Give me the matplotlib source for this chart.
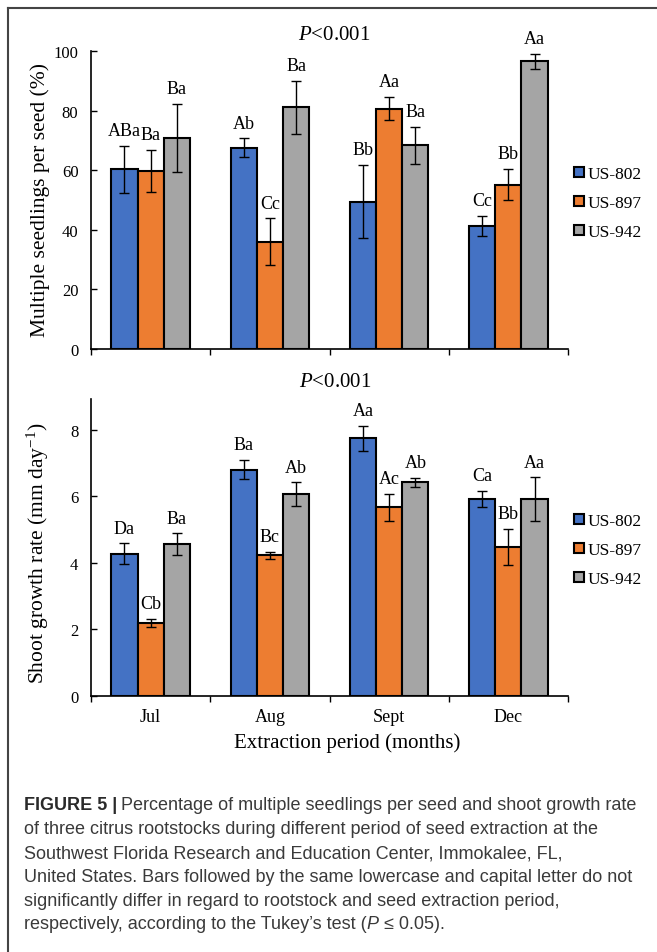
import numpy as np
import matplotlib
matplotlib.use("Agg")
from matplotlib import pyplot as plt
from matplotlib.patches import Patch
from matplotlib.lines import Line2D

plt.rcParams['font.family'] = ['Liberation Serif', 'DejaVu Serif']
plt.rcParams['mathtext.fontset'] = 'custom'
plt.rcParams['mathtext.rm'] = 'Liberation Serif'
plt.rcParams['mathtext.it'] = 'Liberation Serif:italic'

# data
months = ['Jul', 'Aug', 'Sept', 'Dec']
rootstocks = ['US-802', 'US-897', 'US-942']
colors = ['#4472C4', '#ED7D31', '#A5A5A5']

seedlings = [[60.3, 67.5, 49.4, 41.2],
             [59.8, 36.0, 80.7, 55.2],
             [70.8, 81.2, 68.4, 96.6]]
seedlings_err = [[7.9, 3.2, 12.3, 3.4],
                 [7.0, 7.8, 4.0, 5.2],
                 [11.4, 8.9, 6.2, 2.5]]
seedlings_letters = [['ABa', 'Ab', 'Bb', 'Cc'],
                     ['Ba', 'Cc', 'Aa', 'Bb'],
                     ['Ba', 'Ba', 'Ba', 'Aa']]

growth = [[4.28, 6.80, 7.75, 5.92],
          [2.20, 4.23, 5.67, 4.48],
          [4.57, 6.07, 6.42, 5.92]]
growth_err = [[0.31, 0.29, 0.38, 0.24],
              [0.12, 0.11, 0.40, 0.55],
              [0.32, 0.35, 0.13, 0.65]]
growth_letters = [['Da', 'Ba', 'Aa', 'Ca'],
                  ['Cb', 'Bc', 'Ac', 'Bb'],
                  ['Ba', 'Ab', 'Ab', 'Aa']]

W, H = 657, 953
fig = plt.figure(figsize=(W / 100, H / 100), dpi=100)


def fx(px):
    return px / W


def fy(py):
    return 1 - py / H


def panel(ax, vals, errs, letters, ymax, yticks):
    x = np.arange(len(months))
    width = 0.22
    for i in range(3):
        xi = x + (i - 1) * width
        ax.bar(xi, vals[i], width, color=colors[i], edgecolor='black', linewidth=1.5,
               yerr=errs[i], error_kw=dict(ecolor='black', elinewidth=1, capsize=3.5, capthick=1),
               zorder=2)
        for j in range(len(months)):
            ax.annotate(letters[i][j], (xi[j], vals[i][j] + errs[i][j]),
                        xytext=(0, 11), textcoords='offset points',
                        ha='center', va='center', fontsize=13)
    ax.set_xlim(-0.5, 3.5)
    ax.set_ylim(0, ymax)
    ax.set_yticks(yticks)
    ax.set_xticks(x)
    ax.set_xticks(np.arange(-0.5, 4, 1), minor=True)
    ax.tick_params(axis='x', which='major', length=0, pad=9, labelsize=13)
    ax.tick_params(axis='x', which='minor', direction='out', length=4, width=1)
    ax.tick_params(axis='y', direction='in', length=4, width=1, pad=9, labelsize=12)
    for s in ['top', 'right']:
        ax.spines[s].set_visible(False)
    for s in ['left', 'bottom']:
        ax.spines[s].set_linewidth(1.2)
    handles = [Patch(facecolor=colors[i], edgecolor='black', linewidth=1.5) for i in range(3)]
    return handles


# top panel
ax1 = fig.add_axes([fx(91), fy(350), fx(568 - 91), (350 - 52) / H])
h = panel(ax1, seedlings, seedlings_err, seedlings_letters, 100, [0, 20, 40, 60, 80, 100])
ax1.set_xticklabels([])
fig.legend(h, rootstocks, loc='center left', bbox_to_anchor=(fx(574), fy(204)),
           frameon=False, fontsize=12.5, handlelength=0.55, handleheight=0.55,
           handletextpad=0.25, labelspacing=0.75, borderpad=0, borderaxespad=0)
fig.text(fx(334), fy(36), '$P$<0.001', ha='center', va='center', fontsize=15)
fig.text(fx(40), fy(200), 'Multiple seedlings per seed (%)', rotation=90,
         ha='center', va='center', fontsize=15.5)

# bottom panel
ax2 = fig.add_axes([fx(91), fy(697), fx(568 - 91), (697 - 400) / H])
h = panel(ax2, growth, growth_err, growth_letters, 8.93, [0, 2, 4, 6, 8])
ax2.set_xticklabels(months)
fig.legend(h, rootstocks, loc='center left', bbox_to_anchor=(fx(574), fy(551)),
           frameon=False, fontsize=12.5, handlelength=0.55, handleheight=0.55,
           handletextpad=0.25, labelspacing=0.75, borderpad=0, borderaxespad=0)
fig.text(fx(335), fy(383), '$P$<0.001', ha='center', va='center', fontsize=15)
fig.text(fx(38), fy(553), 'Shoot growth rate (mm day$^{-1}$)', rotation=90,
         ha='center', va='center', fontsize=15.5)
fig.text(fx(347), fy(743), 'Extraction period (months)', ha='center', va='center', fontsize=15)

# frame lines
fig.add_artist(Line2D([fx(8), 1], [fy(9), fy(9)], color='#444444', linewidth=1.5))
fig.add_artist(Line2D([fx(8), fx(8)], [fy(9), 0], color='#444444', linewidth=1.5))

# caption
cap_font = ['Liberation Sans', 'DejaVu Sans']
cap_size = 13
cap_color = '#3a3a3a'
lines = [
    'Percentage of multiple seedlings per seed and shoot growth rate',
    'of three citrus rootstocks during different period of seed extraction at the',
    'Southwest Florida Research and Education Center, Immokalee, FL,',
    'United States. Bars followed by the same lowercase and capital letter do not',
    'significantly differ in regard to rootstock and seed extraction period,',
]
renderer = fig.canvas.get_renderer()
y0 = 804
step = 23.8
t = fig.text(fx(24), fy(y0), 'FIGURE 5 |', family=cap_font, fontsize=cap_size,
             fontweight='bold', color='#2a2a2a', va='center_baseline')
bb = t.get_window_extent(renderer)
fig.text(bb.x1 / W + 4 / W, fy(y0), lines[0], family=cap_font, fontsize=cap_size,
         color=cap_color, va='center_baseline')
for k in range(1, len(lines)):
    fig.text(fx(24), fy(y0 + k * step), lines[k], family=cap_font, fontsize=cap_size,
             color=cap_color, va='center_baseline')
yl = y0 + 5 * step
t = fig.text(fx(24), fy(yl), "respectively, according to the Tukey\u2019s test (", family=cap_font,
             fontsize=cap_size, color=cap_color, va='center_baseline')
bb = t.get_window_extent(renderer)
t = fig.text(bb.x1 / W, fy(yl), 'P', family=cap_font, fontsize=cap_size, style='italic',
             color=cap_color, va='center_baseline')
bb = t.get_window_extent(renderer)
fig.text(bb.x1 / W, fy(yl), ' \u2264 0.05).', family=cap_font, fontsize=cap_size,
         color=cap_color, va='center_baseline')

fig.savefig('out.png', dpi=100)
